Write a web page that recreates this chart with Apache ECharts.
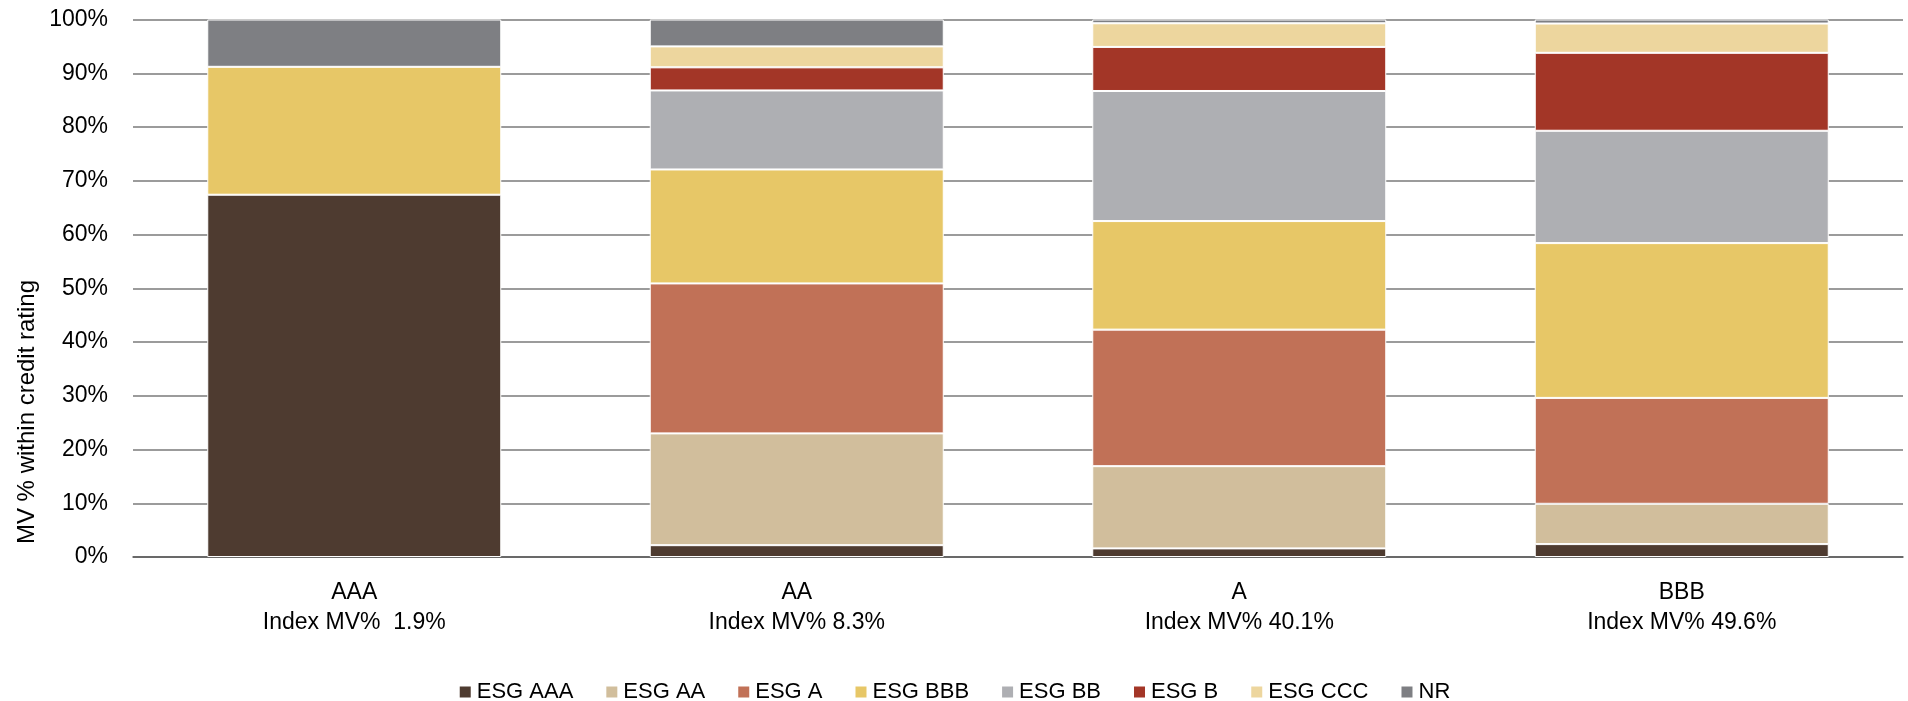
<!DOCTYPE html>
<html>
<head>
<meta charset="utf-8">
<script src="https://cdn.jsdelivr.net/npm/echarts@6/dist/echarts.min.js"></script>
<style>
html,body{margin:0;padding:0;background:#fff;}
#chart{width:1908px;height:701px;}
</style>
</head>
<body>
<div id="chart"></div>
<script>
// ---- data ----
const categories = ['AAA', 'AA', 'A', 'BBB'];
const indexMV = ['Index MV%  1.9%', 'Index MV% 8.3%', 'Index MV% 40.1%', 'Index MV% 49.6%'];
const seriesNames = ['ESG AAA', 'ESG AA', 'ESG A', 'ESG BBB', 'ESG BB', 'ESG B', 'ESG CCC', 'NR'];
const esgAAA = [67.4, 2.2, 1.6, 2.4];
const esgAA  = [null, 20.8, 15.3, 7.5];
const esgA   = [null, 27.9, 25.4, 19.7];
const esgBBB = [23.8, 21.2, 20.2, 28.8];
const esgBB  = [null, 14.7, 24.2, 20.9];
const esgB   = [null, 4.3, 8.2, 14.5];
const esgCCC = [null, 3.9, 4.4, 5.45];
const nr     = [8.8, 5.0, 0.7, 0.75];
const yTicks = [0, 10, 20, 30, 40, 50, 60, 70, 80, 90, 100];
const yAxisTitle = 'MV % within credit rating';

// ---- styles ----
const colors = ['#4E3B30', '#D1BE9C', '#C17157', '#E7C767', '#AEAFB3', '#A33627', '#EDD69E', '#7E7F83'];
const FONT = "'Liberation Sans', Arial, sans-serif";
const values = [esgAAA, esgAA, esgA, esgBBB, esgBB, esgB, esgCCC, nr];

const chart = echarts.init(document.getElementById('chart'), null, {renderer: 'canvas'});
chart.setOption({
  animation: false,
  textStyle: {fontFamily: FONT, color: '#000'},
  grid: {left: 133, right: 5, top: 19.5, bottom: 144, containLabel: false},
  legend: {
    data: seriesNames,
    top: 681,
    left: 'center',
    itemWidth: 13,
    itemHeight: 13,
    itemGap: 31,
    padding: 0,
    icon: 'rect',
    textStyle: {fontSize: 22, color: '#000', fontFamily: FONT}
  },
  xAxis: {
    type: 'category',
    data: categories,
    axisTick: {show: false},
    axisLine: {show: true, lineStyle: {color: '#595959', width: 1.5}},
    axisLabel: {
      margin: 21,
      fontSize: 23,
      lineHeight: 30,
      color: '#000',
      fontFamily: FONT,
      formatter: function (v, i) { return v + '\n' + indexMV[i]; }
    }
  },
  yAxis: {
    type: 'value',
    min: yTicks[0],
    max: yTicks[yTicks.length - 1],
    interval: yTicks[1] - yTicks[0],
    axisLine: {show: false},
    axisTick: {show: false},
    splitLine: {show: true, lineStyle: {color: '#7a7a7a', width: 1.5}},
    axisLabel: {margin: 25, fontSize: 23, color: '#000', fontFamily: FONT, formatter: '{value}%'}
  },
  graphic: [{
    type: 'text',
    x: 27,
    y: 412,
    rotation: Math.PI / 2,
    style: {
      text: yAxisTitle,
      fontSize: 24,
      fontFamily: FONT,
      fill: '#000',
      textAlign: 'center',
      textVerticalAlign: 'middle'
    }
  }],
  series: seriesNames.map(function (name, k) {
    return {
      name: name,
      type: 'bar',
      stack: 'total',
      barWidth: 294,
      data: values[k],
      itemStyle: {color: colors[k], borderColor: '#fff', borderWidth: 1},
      emphasis: {disabled: true}
    };
  })
});
</script>
</body>
</html>
